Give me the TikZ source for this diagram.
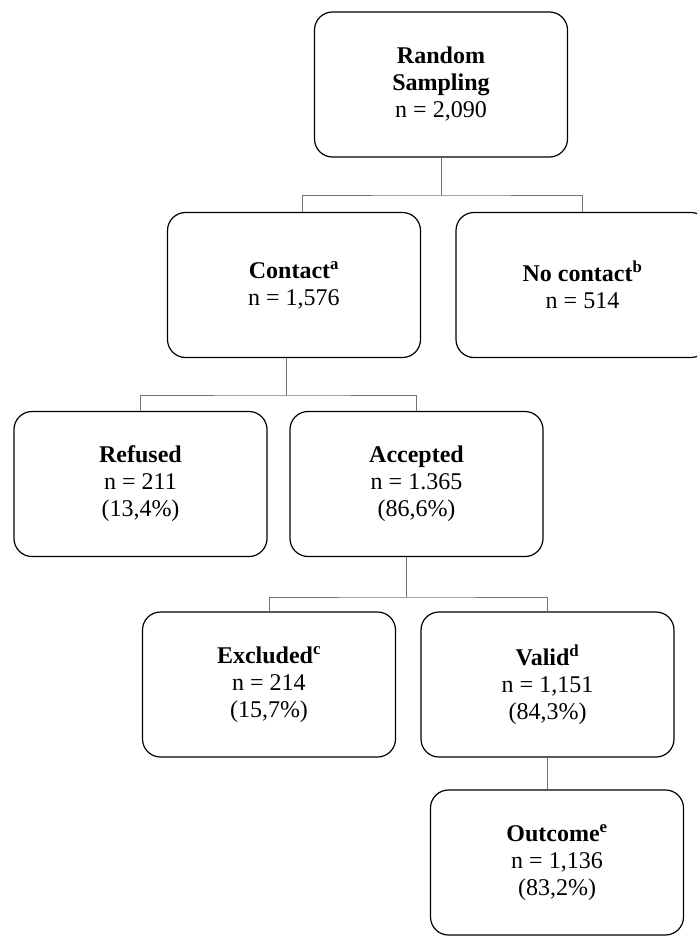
\documentclass[tikz,border=0pt]{standalone}
\usepackage{fontspec}
\setmainfont{Liberation Serif}
\usepackage{tikz}
\usetikzlibrary{positioning}

\begin{document}
\begin{tikzpicture}
  [x=1pt,y=1pt,
   every node/.style={draw,line width=1.2pt,rounded corners=18pt,
     minimum width=253pt,minimum height=145pt,align=center,
     font=\fontsize{24}{27}\selectfont},
   link/.style={draw=black!55,line width=1pt}]
  \clip (0,0) rectangle (697,-937);

  \node (rand) at (441,-84.5) {\textbf{Random}\\\textbf{Sampling}\\n = 2,090};
  \node (contact) at (294,-285) {\textbf{Contact\textsuperscript{a}}\\n = 1,576};
  \node (nocontact) at (582.5,-285) {\textbf{No contact\textsuperscript{b}}\\n = 514};
  \node (refused) at (140.5,-484) {\textbf{Refused}\\n = 211\\(13,4\%)};
  \node (accepted) at (416.5,-484) {\textbf{Accepted}\\n = 1.365\\(86,6\%)};
  \node (excluded) at (269,-684.5) {\textbf{Excluded\textsuperscript{c}}\\n = 214\\(15,7\%)};
  \node (valid) at (547.5,-684.5) {\textbf{Valid\textsuperscript{d}}\\n = 1,151\\(84,3\%)};
  \node (outcome) at (557,-862.5) {\textbf{Outcome\textsuperscript{e}}\\n = 1,136\\(83,2\%)};

  % bus lines between levels
  \coordinate (b1) at (441,-195);
  \coordinate (b2) at (286,-395);
  \coordinate (b3) at (406.5,-597);

  \draw[link] (rand.south) -- (b1);
  \draw[link] ([xshift=8pt]contact.north) |- (b1) -| (nocontact.north);
  \draw[link] ([xshift=-8pt]contact.south) -- (b2);
  \draw[link] (refused.north) |- (b2) -| (accepted.north);
  \draw[link] ([xshift=-10pt]accepted.south) -- (b3);
  \draw[link] (excluded.north) |- (b3) -| (valid.north);
  \draw[link] (valid.south) -- (valid.south |- outcome.north);

\end{tikzpicture}
\end{document}
